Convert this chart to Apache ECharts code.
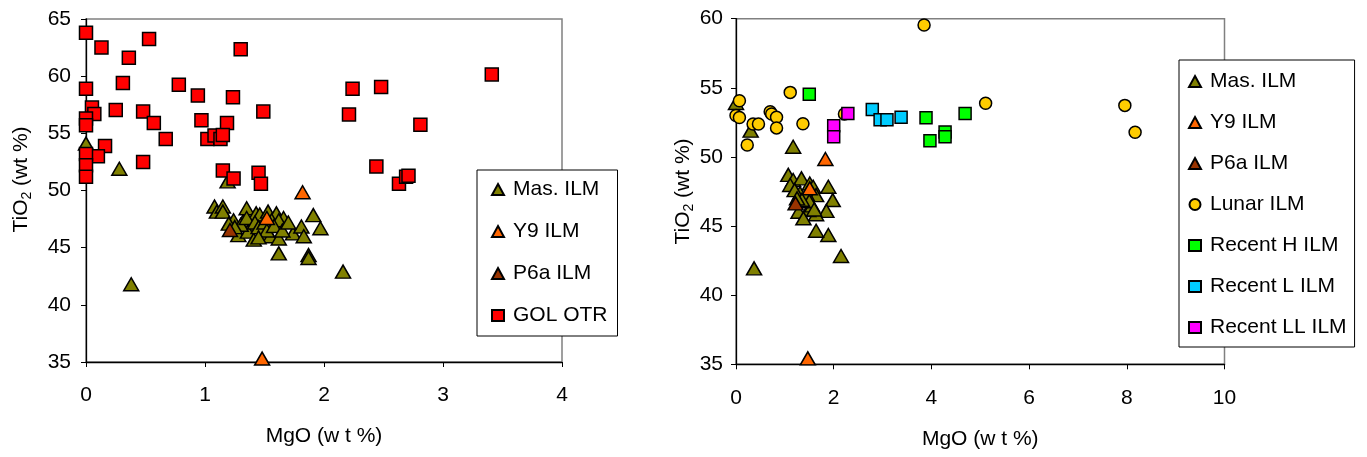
<!DOCTYPE html>
<html>
<head>
<meta charset="utf-8">
<script src="https://cdn.jsdelivr.net/npm/echarts@6/dist/echarts.min.js"></script>
<style>
html,body{margin:0;padding:0;background:#fff;}
#c{width:1367px;height:457px;}
</style>
</head>
<body>
<div id="c"></div>
<script>
// ---------- DATA ----------
const leftXTicks = [0, 1, 2, 3, 4];
const leftYTicks = [35, 40, 45, 50, 55, 60, 65];
const rightXTicks = [0, 2, 4, 6, 8, 10];
const rightYTicks = [35, 40, 45, 50, 55, 60];

const leftLegend = ['Mas. ILM', 'Y9 ILM', 'P6a ILM', 'GOL OTR'];
const rightLegend = ['Mas. ILM', 'Y9 ILM', 'P6a ILM', 'Lunar ILM', 'Recent H ILM', 'Recent L ILM', 'Recent LL ILM'];

// Left panel: [MgO, TiO2]
const masLeft = [[0,54.1],[0.28,51.9],[0.38,41.8],[1.19,50.8],[1.08,48.6],[1.10,48.15],[1.15,48.6],[1.15,48.15],
  [1.24,47.4],[1.32,47.3],[1.35,48.45],[1.43,48.0],[1.46,47.9],[1.53,48.15],[1.60,48.0],[1.66,47.6],
  [1.28,46.1],[1.39,46.85],[1.36,46.4],[1.41,45.7],[1.48,46.1],[1.55,46.0],[1.62,45.8],[1.56,47.4],
  [1.62,47.4],[1.74,46.25],[1.81,46.85],[1.83,46.0],[1.91,47.85],[1.97,46.7],[1.62,44.5],[1.87,44.35],
  [1.87,44.1],[2.16,42.9],[1.30,47.0],[1.35,47.6],[1.42,47.2],[1.45,46.8],[1.50,47.2],[1.52,46.5],
  [1.58,46.9],[1.65,46.5],[1.20,47.1],[1.25,46.8],[1.70,47.2],[1.45,45.9]];
const y9Left = [[1.52,47.6],[1.82,49.85],[1.48,35.3]];
const p6aLeft = [[1.21,46.55]];
const golOtr = [[0,63.8],[0.13,62.5],[0.53,63.25],[0.36,61.6],[1.30,62.35],[0,58.9],[0.31,59.4],[0.78,59.25],
  [0.94,58.3],[1.235,58.15],[1.49,56.9],[0.05,57.25],[0.07,56.7],[0,56.3],[0,55.7],[0.25,57.05],[0.48,56.9],
  [0.57,55.9],[0.97,56.15],[1.185,55.9],[0.67,54.5],[1.02,54.5],[1.08,54.8],[1.13,54.5],[1.15,54.85],
  [0.16,53.9],[0.10,53.0],[0,53.2],[0,52.2],[0,51.2],[0.48,52.5],[1.15,51.75],[1.24,51.05],[1.45,51.55],
  [1.47,50.6],[2.24,58.9],[2.48,59.05],[2.21,56.65],[2.81,55.75],[3.41,60.15],[2.44,52.1],[2.63,50.6],
  [2.69,51.2],[2.71,51.3]];

// Right panel: [MgO, TiO2]
const masRight = [[0,53.9],[0.30,51.9],[1.17,50.74],[0.37,41.94],[2.15,42.83],[1.89,44.35],[1.64,44.66],
  [1.89,47.84],[1.98,46.88],[1.85,46.1],[1.64,45.85],[1.07,48.7],[1.17,48.33],[1.34,48.45],[1.11,47.97],
  [1.31,47.37],[1.41,46.88],[1.51,48.08],[1.58,47.84],[1.48,46.16],[1.28,46.04],[1.38,45.56],[1.64,47.24],
  [1.56,46.5],[1.2,47.6],[1.45,47.3],[1.5,46.8],[1.35,46.9],[1.6,46.2],[1.25,47.0]];
const y9Right = [[1.51,47.73],[1.83,49.85],[1.47,35.43]];
const p6aRight = [[1.22,46.64]];
const lunar = [[3.85,59.55],[0.07,54.07],[0,53.0],[0.07,52.85],[1.11,54.67],[0.70,53.27],[0.73,53.1],
  [0.83,52.87],[0.35,52.38],[0.46,52.38],[0.83,52.1],[1.37,52.4],[0.23,50.86],[5.11,53.88],[7.96,53.73],
  [8.17,51.78],[2.22,53.1]];
const recentH = [[1.50,54.53],[3.89,52.84],[4.69,53.15],[3.97,51.17],[4.28,51.8],[4.28,51.46]];
const recentL = [[2.79,53.44],[2.95,52.69],[3.09,52.69],[3.38,52.87]];
const recentLL = [[2.29,53.15],[2.0,52.26],[2.0,51.46]];

// ---------- STYLE ----------
const FONT = '"Liberation Sans", Arial, sans-serif';
const colors = {
  'Mas. ILM': '#808000', 'Y9 ILM': '#FF6600', 'P6a ILM': '#993300', 'GOL OTR': '#FF0000',
  'Lunar ILM': '#FFCC00', 'Recent H ILM': '#00FF00', 'Recent L ILM': '#00CCFF', 'Recent LL ILM': '#FF00FF'
};
const symbols = {
  'Mas. ILM': 'triangle', 'Y9 ILM': 'triangle', 'P6a ILM': 'triangle', 'GOL OTR': 'rect',
  'Lunar ILM': 'circle', 'Recent H ILM': 'rect', 'Recent L ILM': 'rect', 'Recent LL ILM': 'rect'
};
const sizes = {
  'Mas. ILM': [15, 13], 'Y9 ILM': [15, 13], 'P6a ILM': [15, 13], 'GOL OTR': [13, 13],
  'Lunar ILM': [12, 12], 'Recent H ILM': [12, 12], 'Recent L ILM': [12, 12], 'Recent LL ILM': [12, 12]
};

function mk(name, data, idx) {
  return {
    type: 'scatter', name: name, data: data,
    xAxisIndex: idx, yAxisIndex: idx,
    symbol: symbols[name], symbolSize: sizes[name],
    itemStyle: { color: colors[name], borderColor: '#000', borderWidth: 1.5, opacity: 1 },
    emphasis: { disabled: true },
    animation: false
  };
}

function xAxis(idx, max, interval, ticks) {
  return {
    type: 'value', gridIndex: idx, min: 0, max: max, interval: interval,
    name: 'MgO (w t %)', nameLocation: 'middle', nameGap: 64,
    nameTextStyle: { fontFamily: FONT, fontSize: 21, color: '#000' },
    axisLine: { show: true, onZero: false, lineStyle: { color: '#000', width: 1.3 } },
    axisTick: { show: true, inside: false, length: 5, lineStyle: { color: '#000' } },
    axisLabel: { fontFamily: FONT, fontSize: 21, color: '#000', margin: 23,
      formatter: v => ticks.includes(v) ? String(v) : '' },
    splitLine: { show: false }
  };
}
function yAxis(idx, min, max, ticks, gap, margin, shift) {
  return {
    type: 'value', gridIndex: idx, min: min, max: max, interval: 5,
    name: '{a|TiO}{b|2}{a| (wt %)}', nameLocation: 'middle', nameGap: gap, nameRotate: 90,
    nameTextStyle: {
      fontFamily: FONT, color: '#000', padding: [0, 0, 0, shift],
      rich: {
        a: { fontFamily: FONT, fontSize: 21, color: '#000', lineHeight: 26, verticalAlign: 'middle' },
        b: { fontFamily: FONT, fontSize: 14, color: '#000', lineHeight: 26, verticalAlign: 'bottom' }
      }
    },
    axisLine: { show: true, onZero: false, lineStyle: { color: '#000', width: 1.3 } },
    axisTick: { show: true, inside: false, length: 5, lineStyle: { color: '#000' } },
    axisLabel: { fontFamily: FONT, fontSize: 21, color: '#000', margin: margin,
      formatter: v => ticks.includes(v) ? String(v) : '' },
    splitLine: { show: false }
  };
}

const legendBase = {
  orient: 'vertical', selectedMode: false,
  backgroundColor: '#fff', borderColor: '#000', borderWidth: 1,
  itemWidth: 12, itemHeight: 11,
  textStyle: { fontFamily: FONT, fontSize: 21, color: '#000', lineHeight: 20, padding: [0, 0, 0, 4] }
};

const option = {
  animation: false,
  backgroundColor: '#fff',
  grid: [
    { left: 86, right: 1367 - 562, top: 19, bottom: 457 - 362, show: true, borderColor: '#808080', borderWidth: 1.5, backgroundColor: '#fff' },
    { left: 736, right: 1367 - 1224.5, top: 18.7, bottom: 457 - 364.3, show: true, borderColor: '#808080', borderWidth: 1.5, backgroundColor: '#fff' }
  ],
  xAxis: [xAxis(0, 4, 1, leftXTicks), xAxis(1, 10, 2, rightXTicks)],
  yAxis: [yAxis(0, 35, 65, leftYTicks, 52, 15, 22), yAxis(1, 35, 60, rightYTicks, 33, 13, 0)],
  legend: [
    Object.assign({}, legendBase, {
      left: 477, top: 170, padding: [9, 10, 10, 14], itemGap: 21,
      data: leftLegend.map(n => ({ name: n, icon: symbols[n] }))
    }),
    Object.assign({}, legendBase, {
      left: 1179, top: 60, padding: [11, 8, 9, 9], itemGap: 20,
      data: rightLegend.map(n => ({ name: n, icon: symbols[n] }))
    })
  ],
  series: [
    mk('Mas. ILM', masLeft, 0),
    mk('Y9 ILM', y9Left, 0),
    mk('P6a ILM', p6aLeft, 0),
    mk('GOL OTR', golOtr, 0),
    mk('Mas. ILM', masRight, 1),
    mk('Y9 ILM', y9Right, 1),
    mk('P6a ILM', p6aRight, 1),
    mk('Lunar ILM', lunar, 1),
    mk('Recent H ILM', recentH, 1),
    mk('Recent L ILM', recentL, 1),
    mk('Recent LL ILM', recentLL, 1)
  ]
};

const chart = echarts.init(document.getElementById('c'), null, { renderer: 'canvas' });
chart.setOption(option);
</script>
</body>
</html>
